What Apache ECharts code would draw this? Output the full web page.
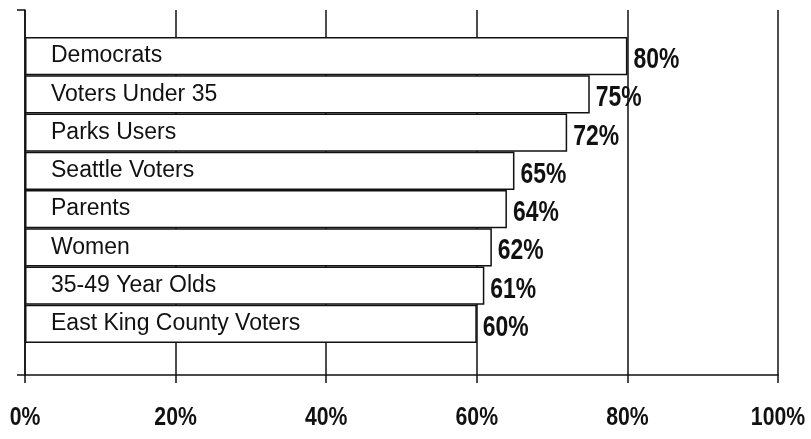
<!DOCTYPE html>
<html>
<head>
<meta charset="utf-8">
<style>
  html, body { margin: 0; padding: 0; background: #fff; }
  #chart { width: 811px; height: 439px; }
</style>
<script src="https://cdn.jsdelivr.net/npm/echarts@6/dist/echarts.min.js"></script>
</head>
<body>
<div id="chart"></div>
<script>
// Groups and the share of each that supports the measure (percent)
const categories = [
  'Democrats',
  'Voters Under 35',
  'Parks Users',
  'Seattle Voters',
  'Parents',
  'Women',
  '35-49 Year Olds',
  'East King County Voters'
];
const values = [80, 75, 72, 65, 64, 62, 61, 60];
const xTicks = [0, 20, 40, 60, 80, 100];
const xTickLabels = ['0%', '20%', '40%', '60%', '80%', '100%'];

const INK = '#111';
const SANS = '"Liberation Sans", Arial, sans-serif';

// Bold figures are set in a condensed face; squeeze a regular bold face horizontally.
function condensedText(x, y, text, size, squeeze, align) {
  return {
    type: 'text',
    x: x,
    y: y,
    scaleX: squeeze,
    style: {
      text: text,
      font: 'bold ' + size + 'px ' + SANS,
      fill: INK,
      align: align,
      verticalAlign: 'middle'
    }
  };
}

const chart = echarts.init(document.getElementById('chart'), null, { renderer: 'canvas' });

chart.setOption({
  backgroundColor: '#fff',
  animation: false,
  grid: [
    // frame: axes and vertical gridlines
    { left: 25, right: 33, top: 10, bottom: 64 },
    // rows of bars, inset inside the frame
    { left: 25, right: 33, top: 37, bottom: 96 }
  ],
  xAxis: [
    {
      gridIndex: 0,
      type: 'value',
      min: xTicks[0],
      max: xTicks[xTicks.length - 1],
      interval: xTicks[1] - xTicks[0],
      axisLine: { show: true, lineStyle: { color: INK, width: 1.5 } },
      axisTick: { show: true, length: 8, lineStyle: { color: INK, width: 1.5 } },
      splitLine: { show: true, lineStyle: { color: INK, width: 1.5 } },
      axisLabel: { show: false }
    },
    {
      gridIndex: 1,
      type: 'value',
      min: xTicks[0],
      max: xTicks[xTicks.length - 1],
      show: false
    }
  ],
  yAxis: [
    {
      gridIndex: 0,
      type: 'value',
      min: 0,
      max: 1,
      interval: 1,
      axisLine: { show: true, lineStyle: { color: INK, width: 1.5 } },
      axisTick: { show: true, length: 8, lineStyle: { color: INK, width: 1.5 } },
      axisLabel: { show: false },
      splitLine: { show: false }
    },
    {
      gridIndex: 1,
      type: 'category',
      data: categories,
      inverse: true,
      show: false
    }
  ],
  series: [
    {
      type: 'bar',
      xAxisIndex: 1,
      yAxisIndex: 1,
      data: values,
      barCategoryGap: 0,
      z: 5,
      itemStyle: { color: '#fff', borderColor: INK, borderWidth: 1.5 },
      label: {
        show: true,
        position: 'insideLeft',
        distance: 26,
        formatter: (p) => p.name,
        color: INK,
        fontFamily: SANS,
        fontSize: 23
      }
    },
    {
      // value written just past the end of each bar
      type: 'custom',
      xAxisIndex: 1,
      yAxisIndex: 1,
      z: 6,
      silent: true,
      data: values.map((v, i) => [v, i]),
      encode: { x: 0, y: 1 },
      renderItem: (params, api) => {
        const v = api.value(0);
        const p = api.coord([v, api.value(1)]);
        return condensedText(p[0] + 6, p[1] + 4, v + '%', 29, 0.79, 'left');
      }
    },
    {
      // tick labels under the value axis
      type: 'custom',
      xAxisIndex: 0,
      yAxisIndex: 0,
      z: 6,
      silent: true,
      data: xTicks.map((t, i) => [t, 0, i]),
      encode: { x: 0, y: 1 },
      renderItem: (params, api) => {
        const p = api.coord([api.value(0), api.value(1)]);
        return condensedText(p[0], p[1] + 43, xTickLabels[api.value(2)], 25, 0.85, 'center');
      }
    }
  ]
});
</script>
</body>
</html>
